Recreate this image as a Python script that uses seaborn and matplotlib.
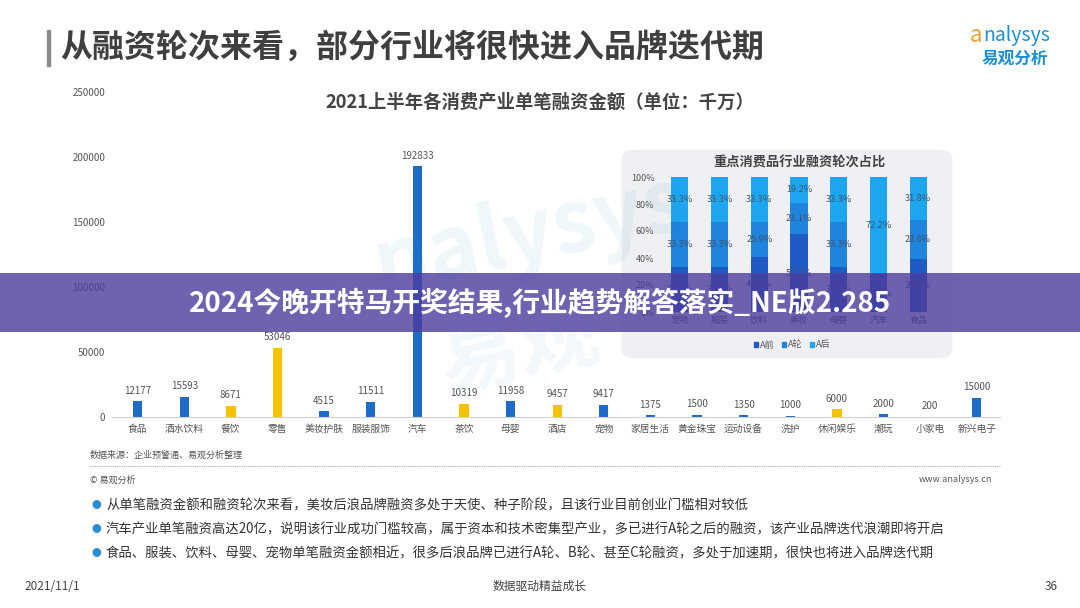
import matplotlib
matplotlib.use("Agg")
import matplotlib.pyplot as plt
import seaborn as sns
from matplotlib.patches import FancyBboxPatch, Rectangle, Patch
from matplotlib.lines import Line2D

# ---- data ----
industries = ["食品", "酒水饮料", "餐饮", "零售", "美妆护肤", "服装服饰", "汽车", "茶饮", "母婴",
              "酒店", "宠物", "家居生活", "黄金珠宝", "运动设备", "洗护", "休闲娱乐", "潮玩", "小家电", "新兴电子"]
amounts = [12177, 15593, 8671, 53046, 4515, 11511, 192833, 10319, 11958,
           9457, 9417, 1375, 1500, 1350, 1000, 6000, 2000, 200, 15000]
yellow_set = ["餐饮", "零售", "茶饮", "酒店", "休闲娱乐"]

inset_cats = ["宠物", "服装", "饮料", "美妆", "母婴", "汽车", "食品"]
a_pre = [33.3, 33.3, 40.8, 57.7, 33.3, 27.8, 39.4]
a_round = [33.3, 33.3, 25.9, 23.1, 33.3, 0.0, 28.8]
a_post = [33.3, 33.3, 33.3, 19.2, 33.3, 72.2, 31.8]

bullets = [
    "从单笔融资金额和融资轮次来看，美妆后浪品牌融资多处于天使、种子阶段，且该行业目前创业门槛相对较低",
    "汽车产业单笔融资高达20亿，说明该行业成功门槛较高，属于资本和技术密集型产业，多已进行A轮之后的融资，该产业品牌迭代浪潮即将开启",
    "食品、服装、饮料、母婴、宠物单笔融资金额相近，很多后浪品牌已进行A轮、B轮、甚至C轮融资，多处于加速期，很快也将进入品牌迭代期",
]

sns.set_style("white")
plt.rcParams["font.family"] = ["Noto Sans CJK SC", "DejaVu Sans"]

W, H = 1080, 608
fig = plt.figure(figsize=(W / 100, H / 100), dpi=100)
fig.patch.set_facecolor("white")


def box(x0, y0, x1, y1):
    return [x0 / W, 1 - y1 / H, (x1 - x0) / W, (y1 - y0) / H]


def fx(x):
    return x / W


def fy(y):
    return 1 - y / H


BLUE = "#1F6CC8"
YELLOW = "#F6C200"
GRAY = "#555555"

# ---- header ----
fig.patches.append(Rectangle((fx(47), fy(66)), 3 / W, 36 / H, transform=fig.transFigure,
                             color="#8a8a8a", zorder=1))
fig.text(fx(60), fy(48), "从融资轮次来看，部分行业将很快进入品牌迭代期", fontsize=23,
         fontweight="bold", color="#3f3f3f", va="center", ha="left")
fig.text(fx(976), fy(35), "a", fontsize=16, color="#F0A030", va="center", ha="center", style="italic")
fig.text(fx(1050), fy(35), "nalysys", fontsize=14, color="#1C8FD6", va="center", ha="right")
fig.text(fx(1048), fy(59), "易观分析", fontsize=12, color="#1C8FD6", fontweight="bold", va="center", ha="right")

# ---- watermark ----
fig.text(fx(530), fy(235), "nalysys", fontsize=62, color="#2a8fd0", alpha=0.07, rotation=12,
         ha="center", va="center", fontweight="bold")
fig.text(fx(520), fy(350), "易观", fontsize=58, color="#2a8fd0", alpha=0.06, rotation=12,
         ha="center", va="center", fontweight="bold")

# ---- main chart ----
ax = fig.add_axes(box(112, 92, 1000, 417))
colors = [YELLOW if c in yellow_set else BLUE for c in industries]
sns.barplot(x=industries, y=amounts, hue=industries, palette=colors, legend=False,
            width=0.2, saturation=1, linewidth=0, ax=ax)
for c in ax.containers:
    ax.bar_label(c, fmt="%d", padding=4, fontsize=7, color=GRAY)
ax.set_xlim(-0.55, 18.5)
ax.set_ylim(0, 250000)
ax.set_yticks([0, 50000, 100000, 150000, 200000, 250000])
ax.set_yticklabels(["0", "50000", "100000", "150000", "200000", "250000"])
ax.tick_params(axis="y", length=0, pad=5, labelsize=7, labelcolor=GRAY)
ax.tick_params(axis="x", length=0, pad=5, labelsize=7, labelcolor=GRAY)
ax.set_xlabel("")
ax.set_ylabel("")
for s in ["top", "right", "left"]:
    ax.spines[s].set_visible(False)
ax.spines["bottom"].set_color("#d0d0d0")
ax.set_facecolor("none")
fig.text(fx(540), fy(102), "2021上半年各消费产业单笔融资金额（单位：千万）", fontsize=13.2,
         fontweight="bold", color="#444444", ha="center", va="center")

# ---- inset panel ----
fig.patches.append(FancyBboxPatch((fx(626), fy(356)), (948 - 626) / W, (356 - 152) / H,
                                  boxstyle="round,pad=0.004,rounding_size=0.015",
                                  transform=fig.transFigure, facecolor="#eff0f3",
                                  edgecolor="none", zorder=2))
iax = fig.add_axes(box(660, 177, 938, 312))
iax.set_zorder(3)
c_pre, c_round, c_post = "#1F5BC4", "#1E84DC", "#1DA6F0"
tot3 = [p + r + q for p, r, q in zip(a_pre, a_round, a_post)]
tot2 = [p + r for p, r in zip(a_pre, a_round)]
sns.barplot(x=inset_cats, y=tot3, color=c_post, saturation=1, width=0.43, linewidth=0, ax=iax)
sns.barplot(x=inset_cats, y=tot2, color=c_round, saturation=1, width=0.43, linewidth=0, ax=iax)
sns.barplot(x=inset_cats, y=a_pre, color=c_pre, saturation=1, width=0.43, linewidth=0, ax=iax)
for i in range(len(inset_cats)):
    for lo, v in [(0, a_pre[i]), (a_pre[i], a_round[i]), (tot2[i], a_post[i])]:
        if v > 0:
            iax.text(i, lo + v / 2, f"{v:.1f}%", ha="center", va="center", fontsize=6.6, color="#3f5570")
iax.set_xlim(-0.5, 6.5)
iax.set_ylim(0, 100)
iax.set_yticks([0, 20, 40, 60, 80, 100])
iax.set_yticklabels([f"{t}%" for t in [0, 20, 40, 60, 80, 100]])
iax.tick_params(axis="both", length=0, labelsize=6.5, labelcolor=GRAY)
iax.tick_params(axis="y", pad=4)
iax.tick_params(axis="x", pad=3)
iax.set_xlabel("")
iax.set_ylabel("")
sns.despine(ax=iax, left=True, bottom=True)
iax.set_facecolor("none")
fig.text(fx(800), fy(163), "重点消费品行业融资轮次占比", fontsize=9.5, fontweight="bold",
         color="#444444", ha="center", va="center", zorder=4)
handles = [Patch(color=c_pre, label="A前"), Patch(color=c_round, label="A轮"), Patch(color=c_post, label="A后")]
fig.legend(handles=handles, loc="center", bbox_to_anchor=(fx(792), fy(345)), ncol=3, frameon=False,
           fontsize=6.5, handlelength=0.5, handleheight=0.5, handletextpad=0.2, columnspacing=0.8,
           labelcolor="#555555")

# ---- notes ----
fig.text(fx(90), fy(455), "数据来源：企业预警通、易观分析整理", fontsize=6.5, color="#555555", va="center")
fig.lines.append(Line2D([fx(90), fx(1000)], [fy(466), fy(466)], transform=fig.transFigure,
                        color="#aaaaaa", linestyle=(0, (1, 1)), linewidth=0.8))
fig.text(fx(90), fy(480), "© 易观分析", fontsize=6.5, color="#555555", va="center")
fig.text(fx(992), fy(480), "www.analysys.cn", fontsize=6.5, color="#555555", va="center", ha="right")
for k, t in enumerate(bullets):
    y = 505 + 24 * k
    fig.text(fx(96), fy(y), "●", fontsize=7, color="#2a8fd0", va="center", ha="center")
    fig.text(fx(106), fy(y), t, fontsize=9.6, color="#333333", va="center", ha="left")

fig.text(fx(24), fy(586), "2021/11/1", fontsize=8.5, color="#444444", va="center")
fig.text(fx(540), fy(586), "数据驱动精益成长", fontsize=8.5, color="#444444", va="center", ha="center")
fig.text(fx(1058), fy(586), "36", fontsize=8.5, color="#444444", va="center", ha="right")

# ---- banner ----
fig.patches.append(Rectangle((0, fy(332)), 1, (332 - 273) / H, transform=fig.transFigure,
                             facecolor="#4B3C9E", alpha=0.8, edgecolor="none", zorder=10))
fig.text(fx(540), fy(303), "2024今晚开特马开奖结果,行业趋势解答落实_NE版2.285", fontsize=20,
         fontweight="bold", color="white", ha="center", va="center", zorder=11)

fig.savefig("out.png", dpi=100)
